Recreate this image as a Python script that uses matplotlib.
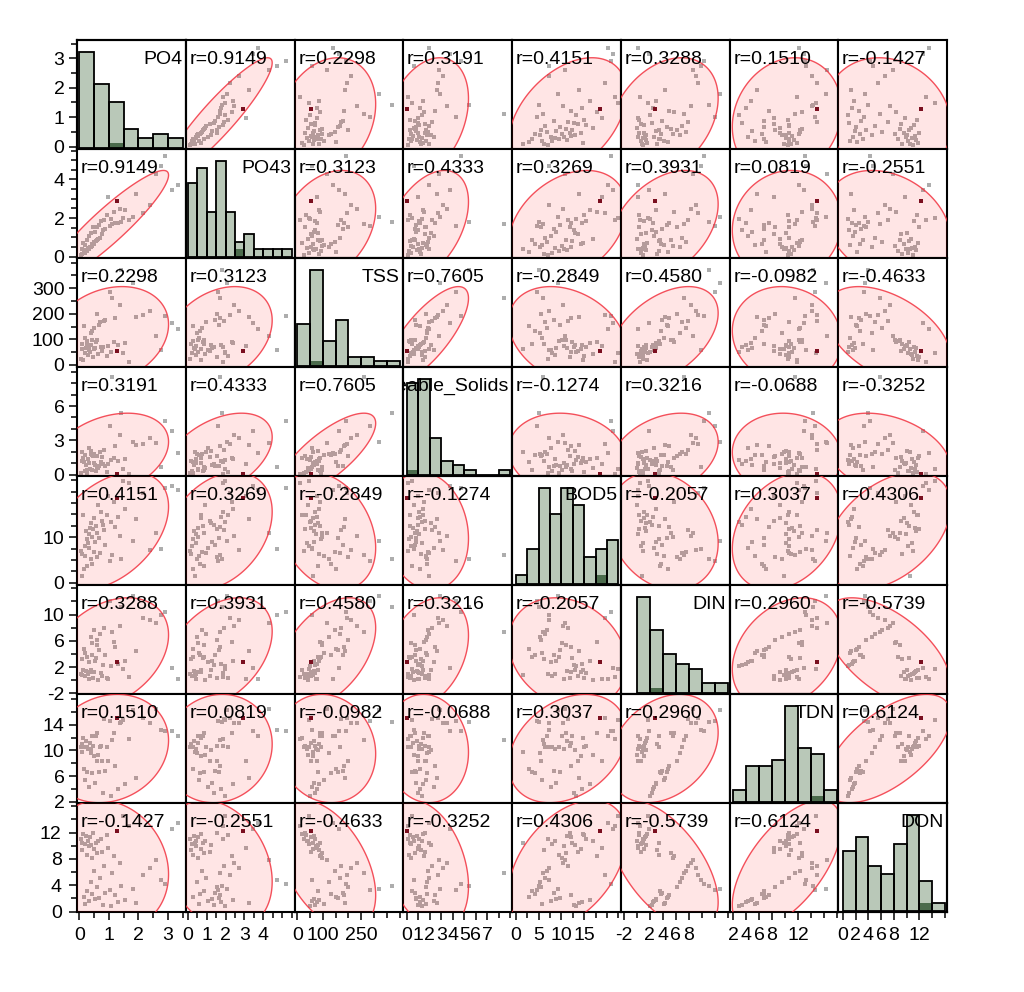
import numpy as np
import matplotlib
matplotlib.use("Agg")
from matplotlib import pyplot as plt
from matplotlib.patches import Polygon

plt.rcParams['font.family'] = ['Liberation Sans', 'DejaVu Sans']

names = ["PO4", "PO43", "TSS", "Settleable_Solids", "BOD5", "DIN", "TDN", "DON"]

# values, one entry per sample
po4 = [0.05, 0.08, 0.10, 0.12, 0.15, 0.18, 0.20, 0.22, 0.25, 0.27, 0.30, 0.32, 0.33, 0.35,
       0.38, 0.40, 0.42, 0.44, 0.46, 0.48, 0.49, 0.52, 0.55, 0.58, 0.60, 0.63, 0.66, 0.70,
       0.73, 0.76, 0.80, 0.84, 0.88, 0.92, 0.96, 1.02, 1.07, 1.12, 1.18, 1.22, 1.27, 1.32,
       1.38, 1.42, 1.47, 1.55, 1.68, 1.80, 1.92, 2.15, 2.40, 2.60, 2.75, 2.90, 3.15, 3.35]
po43 = [0.10, 0.38, 0.15, 0.72, 0.25, 0.20, 0.60, 0.33, 0.30, 0.88, 0.45, 0.42, 1.05, 0.52,
        0.48, 1.22, 0.56, 0.64, 1.52, 0.68, 0.76, 1.30, 0.80, 1.56, 0.85, 0.92, 1.64, 0.96,
        1.84, 1.15, 1.38, 1.92, 1.45, 2.15, 3.10, 1.60, 1.95, 1.68, 2.32, 1.72, 2.90, 1.76,
        2.47, 1.80, 1.98, 2.40, 1.88, 2.05, 3.25, 2.25, 2.70, 4.30, 4.70, 5.20, 3.45, 3.70]
tss = [25, 61, 83, 18, 152, 45, 105, 67, 93, 81, 38, 73, 59, 52, 125, 79, 96, 132, 30, 63,
       146, 65, 88, 198, 98, 42, 158, 168, 69, 54, 71, 172, 177, 35, 75, 285, 49, 260, 90,
       182, 55, 77, 235, 370, 47, 85, 10, 320, 186, 194, 210, 115, 57, 190, 163, 140]
settleable = [0.15, 1.95, 1.25, 1.45, 1.15, 0.35, 1.7, 0.9, 0.2, 0.45, 1.35, 1.06, 2.35, 0.55,
              1.8, 2.1, 0.4, 1.75, 1.6, 1.02, 1.85, 0.85, 0.3, 1.65, 0.7, 0.6, 0.8, 1.98,
              1.1, 1.55, 0.95, 2.2, 0.75, 0.25, 0.98, 4.3, 1.3, 8.5, 1.5, 2.5, 0.05, 1.2,
              3.5, 5.4, 0.5, 1.4, 0.1, 2.9, 2.6, 2.7, 3.2, 2.8, 0.65, 4.7, 3.8, 1.9]
bod5 = [7.0, 1.5, 6.3, 14.8, 3.0, 8.0, 5.8, 11.3, 9.5, 3.6, 8.6, 10.6, 7.7, 12.0, 5.3, 13.0,
        10.1, 4.2, 11.8, 14.2, 6.8, 8.9, 12.4, 5.6, 11.0, 17.0, 9.8, 6.5, 15.5, 13.6, 12.7,
        11.5, 8.3, 14.9, 19.0, 4.7, 13.3, 6.0, 17.8, 12.2, 18.5, 14.5, 10.3, 5.1, 22.3, 16.2,
        21.8, 9.2, 13.9, 19.6, 7.2, 10.8, 7.4, 20.8, 21.3, 20.3]
din = [1.0, 0.8, 3.2, 1.6, 4.8, 0.6, 4.2, 1.4, 3.5, 3.6, 0.9, 0.25, 2.7, 1.3, 6.6, 1.5, 5.6,
       3.8, 0.3, 1.2, 7.6, 3.0, 3.4, 6.2, 5.3, 0.1, 4.6, 7.0, 1.1, 0.7, 2.3, 7.9, 3.9, 0.4,
       0.15, 12.0, 2.1, 7.3, 5.8, 5.0, 2.8, 2.5, 8.3, 11.2, 1.75, 2.9, 0.5, 12.8, 4.4, 9.5,
       9.1, 8.7, 9.9, 10.4, 1.9, 0.2]
tdn = [10.5, 9.8, 11.0, 11.9, 7.1, 10.6, 5.4, 11.4, 10.6, 6.7, 10.2, 10.15, 4.3, 11.1, 9.6,
       10.1, 12.2, 6.5, 10.7, 9.2, 12.3, 4.9, 12.3, 8.4, 12.7, 9.3, 6.7, 10.6, 10.7, 8.3, 3.3,
       14.9, 6.8, 10.5, 8.35, 14.6, 2.9, 11.6, 12.7, 7.5, 15.0, 4.0, 14.2, 14.4, 14.75, 4.7,
       11.8, 16.3, 5.7, 15.0, 14.2, 16.5, 13.2, 13.1, 13.0, 12.2]
don = [11.0, 10.5, 9.3, 11.8, 2.3, 10.2, 1.2, 11.5, 8.6, 3.1, 10.8, 9.9, 1.6, 11.3, 4.5, 10.1,
       8.1, 2.7, 11.9, 9.5, 6.2, 1.9, 10.4, 3.7, 8.9, 10.7, 2.1, 5.1, 11.1, 9.1, 1.0, 7.0, 2.9,
       11.6, 9.7, 3.3, 0.8, 5.8, 8.4, 2.5, 12.2, 1.5, 7.4, 3.9, 14.5, 1.8, 13.0, 3.5, 1.3, 5.5,
       6.6, 7.8, 4.8, 4.2, 12.6, 13.5]

# correlations printed in the panels
corr = [
    [None, 0.9149, 0.2298, 0.3191, 0.4151, 0.3288, 0.1510, -0.1427],
    [0.9149, None, 0.3123, 0.4333, 0.3269, 0.3931, 0.0819, -0.2551],
    [0.2298, 0.3123, None, 0.7605, -0.2849, 0.4580, -0.0982, -0.4633],
    [0.3191, 0.4333, 0.7605, None, -0.1274, 0.3216, -0.0688, -0.3252],
    [0.4151, 0.3269, -0.2849, -0.1274, None, -0.2057, 0.3037, 0.4306],
    [0.3288, 0.3931, 0.4580, 0.3216, -0.2057, None, 0.2960, -0.5739],
    [0.1510, 0.0819, -0.0982, -0.0688, 0.3037, 0.2960, None, 0.6124],
    [-0.1427, -0.2551, -0.4633, -0.3252, 0.4306, -0.5739, 0.6124, None],
]

sel = 40  # the highlighted (dark red) row

data = [np.array(v, dtype=float) for v in [po4, po43, tss, settleable, bod5, din, tdn, don]]
n = len(names)

xlims = [(-0.08, 3.6), (-0.11, 5.65), (-11, 414), (-0.3, 9.16),
         (-0.81, 23.0), (-2.46, 14.3), (1.41, 18.25), (-0.7, 16.3)]
ylims = [(-0.08, 3.62), (-0.07, 5.58), (-8, 418), (-0.1, 9.4),
         (-0.5, 23.4), (-2.1, 14.5), (1.8, 18.8), (-0.05, 16.5)]
bins = [np.arange(0, 3.51, 0.5), np.arange(0, 5.51, 0.5), np.arange(0, 401, 50),
        np.arange(0, 9.01, 1), np.arange(0, 22.51, 2.5), np.arange(0, 14.01, 2),
        np.arange(2, 18.01, 2), np.arange(0, 16.01, 2)]

y_major = [[0, 1, 2, 3], [0, 2, 4], [0, 100, 200, 300], [0, 3, 6], [0, 10],
           [-2, 2, 6, 10], [2, 6, 10, 14], [0, 4, 8, 12]]
x_major = [[0, 1, 2, 3], [0, 1, 2, 3, 4], [0, 100, 250], [0, 1, 2, 3, 4, 5, 6, 7],
           [0, 5, 10, 15], [-2, 2, 4, 6, 8], [2, 4, 6, 8, 12], [0, 2, 4, 6, 8, 12]]
minor = [np.arange(0, 3.51, 0.5), np.arange(0, 5.51, 0.5), np.arange(0, 401, 50),
         np.arange(0, 9.01, 1), np.arange(0, 22.6, 2.5), np.arange(-2, 14.1, 2),
         np.arange(2, 18.1, 2), np.arange(0, 16.1, 2)]

CHI2 = 5.991  # 95% density ellipse

fig, axs = plt.subplots(n, n, figsize=(10.24, 9.92), dpi=100)
plt.subplots_adjust(left=77 / 1024, right=947 / 1024, bottom=80 / 992, top=952 / 992,
                    wspace=0, hspace=0)

t = np.linspace(0, 2 * np.pi, 300)

for i in range(n):
    for j in range(n):
        ax = axs[i][j]
        ax.set_xlim(xlims[j])
        ax.set_ylim(ylims[i])
        for s in ax.spines.values():
            s.set_linewidth(1.5)
            s.set_color('black')

        if i == j:
            v = data[i]
            counts, edges = np.histogram(v, bins=bins[i])
            hax = ax.twinx()
            hax.set_xlim(xlims[j])
            hax.bar(edges[:-1], counts, width=np.diff(edges), align='edge',
                    color='#b9c8b8', edgecolor='none', zorder=2)
            k = np.searchsorted(edges, v[sel], side='right') - 1
            hax.bar(edges[k], 1, width=edges[k + 1] - edges[k], align='edge',
                    color='#4b6b4c', edgecolor='none', zorder=3)
            hax.bar(edges[:-1], counts, width=np.diff(edges), align='edge',
                    fill=False, edgecolor='black', linewidth=1.3, zorder=4)
            top = counts.max()
            hax.set_ylim(-0.015 * top, 1.12 * top)
            hax.tick_params(which='both', right=False, labelright=False)
            for s in hax.spines.values():
                s.set_linewidth(1.5)
            hax.text(0.97, 0.78, names[i], transform=hax.transAxes, ha='right',
                     va='baseline', fontsize=14, color='black', clip_on=True, zorder=6)
        else:
            x = data[j]
            y = data[i]
            ax.scatter(x, y, s=6, marker='s', color='#adadad', linewidths=0, zorder=2)
            sx, sy = x.std(ddof=1), y.std(ddof=1)
            r = corr[i][j]
            cov = np.array([[sx * sx, r * sx * sy], [r * sx * sy, sy * sy]])
            L = np.linalg.cholesky(cov)
            pts = (L @ np.vstack([np.cos(t), np.sin(t)])) * np.sqrt(CHI2)
            pts[0] += x.mean()
            pts[1] += y.mean()
            ax.add_patch(Polygon(pts.T, closed=True, facecolor=(1, 0, 0, 0.1),
                                 edgecolor=(0.95, 0.2, 0.25, 0.85), linewidth=1.0, zorder=3))
            ax.scatter([x[sel]], [y[sel]], s=8, marker='s', color='#7a0f1f',
                       linewidths=0, zorder=4)
            ax.text(0.035, 0.78, "r=%.4f" % r, transform=ax.transAxes, ha='left',
                    va='baseline', fontsize=14, color='black', zorder=6)

        ax.tick_params(which='both', left=False, bottom=False, labelleft=False,
                       labelbottom=False, direction='out', width=1.1, color='black')
        ax.tick_params(which='major', length=6)
        ax.tick_params(which='minor', length=4.5)
        if j == 0:
            ax.set_yticks(y_major[i])
            ax.set_yticks(minor[i], minor=True)
            ax.set_yticklabels([str(v) for v in y_major[i]], fontsize=14)
            ax.tick_params(which='both', left=True, labelleft=True, pad=3)
        if i == n - 1:
            ax.set_xticks(x_major[j])
            ax.set_xticks(minor[j], minor=True)
            ax.set_xticklabels([str(v) for v in x_major[j]], fontsize=14)
            ax.tick_params(which='both', bottom=True, labelbottom=True, pad=5)

fig.savefig("out.png", dpi=100, facecolor='white')
